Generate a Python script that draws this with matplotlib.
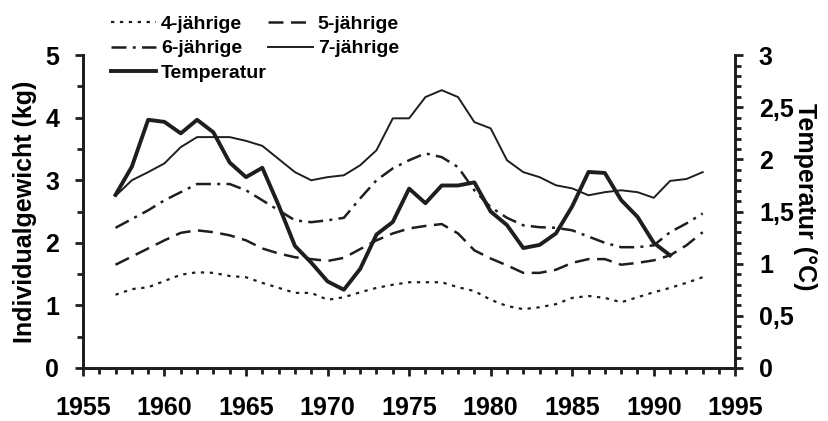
import matplotlib
matplotlib.use('Agg')

import numpy as np
from matplotlib import pyplot as plt
from matplotlib.ticker import MultipleLocator, FuncFormatter

plt.rcParams['font.family'] = ['Liberation Sans', 'DejaVu Sans']
plt.rcParams['font.weight'] = 'bold'

# Jahre
years = list(range(1957, 1994))
temp_years = list(range(1957, 1992))

# Individualgewicht (kg) je Altersklasse
w4 = [1.17, 1.26, 1.29, 1.39, 1.49, 1.53, 1.52, 1.47, 1.45, 1.36, 1.28, 1.20, 1.20,
      1.09, 1.13, 1.21, 1.28, 1.33, 1.37, 1.37, 1.37, 1.29, 1.23, 1.09, 0.99,
      0.94, 0.97, 1.02, 1.12, 1.15, 1.12, 1.05, 1.13, 1.21, 1.28, 1.36, 1.45]
w5 = [1.65, 1.78, 1.91, 2.04, 2.16, 2.20, 2.17, 2.12, 2.04, 1.91, 1.83, 1.77, 1.74,
      1.71, 1.76, 1.90, 2.04, 2.15, 2.23, 2.27, 2.30, 2.15, 1.88, 1.75, 1.64,
      1.52, 1.52, 1.57, 1.68, 1.74, 1.74, 1.65, 1.68, 1.72, 1.80, 1.96, 2.17]
w6 = [2.24, 2.38, 2.52, 2.68, 2.81, 2.94, 2.94, 2.94, 2.84, 2.68, 2.52, 2.36, 2.33,
      2.36, 2.40, 2.71, 3.00, 3.19, 3.32, 3.43, 3.37, 3.21, 2.84, 2.57, 2.40,
      2.28, 2.25, 2.24, 2.20, 2.10, 2.00, 1.93, 1.93, 1.96, 2.17, 2.31, 2.47]
w7 = [2.75, 3.00, 3.13, 3.27, 3.53, 3.69, 3.69, 3.69, 3.63, 3.55, 3.34, 3.13, 3.00,
      3.05, 3.08, 3.24, 3.48, 3.99, 3.99, 4.33, 4.44, 4.33, 3.93, 3.83, 3.32,
      3.13, 3.05, 2.92, 2.87, 2.76, 2.81, 2.84, 2.81, 2.72, 2.99, 3.02, 3.13]

# Temperatur (°C)
temp = [1.66, 1.93, 2.38, 2.36, 2.25, 2.38, 2.26, 1.97, 1.83, 1.92, 1.56, 1.17, 1.01,
        0.83, 0.75, 0.95, 1.28, 1.40, 1.72, 1.58, 1.75, 1.75, 1.78, 1.50, 1.37,
        1.15, 1.18, 1.29, 1.55, 1.88, 1.87, 1.61, 1.45, 1.20, 1.08]

col = '#1e1e1e'

fig = plt.figure(figsize=(8.29, 4.21), dpi=100)
ax = fig.add_axes([0.100, 0.126, 0.787, 0.743])
ax2 = ax.twinx()

l4, = ax.plot(years, w4, color=col, lw=1.6, linestyle=(0, (1.5, 2.5)))
l5, = ax.plot(years, w5, color=col, lw=1.8, linestyle=(0, (6, 3)))
l6, = ax.plot(years, w6, color=col, lw=1.8, linestyle=(0, (6, 2.5, 1.2, 2.5)))
l7, = ax.plot(years, w7, color=col, lw=1.4)
lt, = ax2.plot(temp_years, temp, color=col, lw=2.8)

ax.set_xlim(1955, 1995)
ax.set_ylim(0, 5)
ax2.set_ylim(0, 3)

ax.xaxis.set_major_locator(MultipleLocator(5))
ax.xaxis.set_minor_locator(MultipleLocator(1))
ax.yaxis.set_major_locator(MultipleLocator(1))
ax.yaxis.set_minor_locator(MultipleLocator(0.5))
ax2.yaxis.set_major_locator(MultipleLocator(0.5))
ax2.yaxis.set_minor_locator(MultipleLocator(0.1))
ax2.yaxis.set_major_formatter(FuncFormatter(lambda v, p: ('%g' % v).replace('.', ',')))

for a in (ax, ax2):
    for s in a.spines.values():
        s.set_linewidth(2)
        s.set_color(col)
    a.spines['top'].set_visible(False)
    a.tick_params(which='major', length=6, width=2, color=col, labelsize=18)
    a.tick_params(which='minor', length=4, width=2, color=col)
ax.tick_params(axis='x', which='major', pad=14)
ax.tick_params(axis='y', which='major', pad=11)
ax2.tick_params(axis='y', which='major', pad=11)

ax.set_ylabel('Individualgewicht (kg)', fontsize=18, fontweight='bold', labelpad=6)
ax2.set_ylabel('Temperatur (°C)', fontsize=18, fontweight='bold', rotation=270,
               va='center', ha='center')
ax2.yaxis.set_label_coords(1.107, 0.546)

leg_kw = dict(frameon=False, loc='upper left',
              prop={'size': 14, 'weight': 'bold'},
              handlelength=2.3, handletextpad=0.26, labelspacing=0.35)
fig.legend([l4, l6, lt], ['4-jährige', '6-jährige', 'Temperatur'],
           bbox_to_anchor=(0.113, 1.005), **leg_kw)
fig.legend([l5, l7], ['5-jährige', '7-jährige'],
           bbox_to_anchor=(0.302, 1.005), **leg_kw)

plt.savefig('out.png', dpi=100)
